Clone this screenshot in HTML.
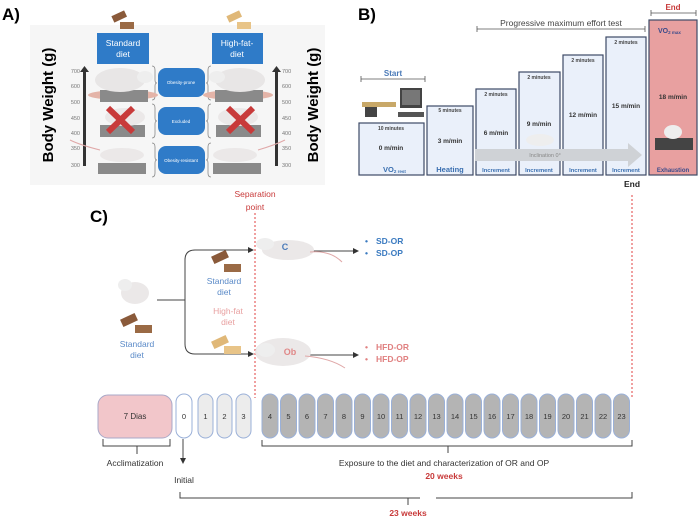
<!DOCTYPE html>
<html><head><meta charset="utf-8"><style>
html,body{margin:0;padding:0;background:#fff;}
svg{display:block;font-family:"Liberation Sans",sans-serif;}
</style></head><body>
<svg width="700" height="520" viewBox="0 0 700 520" xmlns="http://www.w3.org/2000/svg">
<defs>
<marker id="ar" markerWidth="6" markerHeight="6" refX="5" refY="3" orient="auto"><path d="M0,0 L6,3 L0,6z" fill="#333"/></marker>
</defs>
<!-- Panel A -->
<text x="2" y="20" font-size="17" font-weight="bold">A)</text>
<rect x="30" y="25" width="295" height="160" fill="#f6f6f6"/>
<rect x="112" y="13" width="14" height="7" fill="#8a5a3a" transform="rotate(-25 119 16)"/>
<rect x="120" y="22" width="14" height="7" fill="#9a6a45"/>
<rect x="227" y="13" width="14" height="7" fill="#e0b878" transform="rotate(-25 234 16)"/>
<rect x="237" y="22" width="14" height="7" fill="#e8c488"/>
<rect x="97" y="33" width="52" height="31" fill="#2f7bc8"/>
<text x="123" y="46" font-size="8.5" fill="#fff" text-anchor="middle">Standard</text>
<text x="123" y="57" font-size="8.5" fill="#fff" text-anchor="middle">diet</text>
<rect x="212" y="33" width="51" height="31" fill="#2f7bc8"/>
<text x="237" y="46" font-size="8.5" fill="#fff" text-anchor="middle">High-fat-</text>
<text x="237" y="57" font-size="8.5" fill="#fff" text-anchor="middle">diet</text>
<g fill="#2f7bc8">
<rect x="158" y="68" width="47" height="29" rx="8"/>
<rect x="158" y="107" width="47" height="28" rx="8"/>
<rect x="158" y="146" width="47" height="28" rx="8"/>
</g>
<g font-size="4.5" fill="#fff" text-anchor="middle">
<text x="181" y="84">Obesity-prone</text><text x="181" y="123">Excluded</text><text x="181" y="162">Obesity-resistant</text>
</g>
<g stroke="#888" fill="none" stroke-width="0.8">
<path d="M152,66 q3,0 3,4 v10 q0,3 2,3 q-2,0 -2,3 v10 q0,4 -3,4"/>
<path d="M152,104 q3,0 3,4 v10 q0,3 2,3 q-2,0 -2,3 v10 q0,4 -3,4"/>
<path d="M152,143 q3,0 3,4 v10 q0,3 2,3 q-2,0 -2,3 v10 q0,4 -3,4"/>
<path d="M211,66 q-3,0 -3,4 v10 q0,3 -2,3 q2,0 2,3 v10 q0,4 3,4"/>
<path d="M211,104 q-3,0 -3,4 v10 q0,3 -2,3 q2,0 2,3 v10 q0,4 3,4"/>
<path d="M211,143 q-3,0 -3,4 v10 q0,3 -2,3 q2,0 2,3 v10 q0,4 3,4"/>
</g>
<!-- axes -->
<rect x="83" y="70" width="3" height="96" fill="#333"/><path d="M80,72 L84.5,66 L89,72z" fill="#333"/>
<rect x="275" y="70" width="3" height="96" fill="#333"/><path d="M272,72 L276.5,66 L281,72z" fill="#333"/>
<g font-size="5.5" fill="#777" text-anchor="end">
<text x="80" y="73">700</text><text x="80" y="88">600</text><text x="80" y="104">500</text><text x="80" y="120">450</text><text x="80" y="135">400</text><text x="80" y="150">350</text><text x="80" y="167">300</text>
</g>
<g font-size="5.5" fill="#777">
<text x="282" y="73">700</text><text x="282" y="88">600</text><text x="282" y="104">500</text><text x="282" y="120">450</text><text x="282" y="135">400</text><text x="282" y="150">350</text><text x="282" y="167">300</text>
</g>
<text transform="translate(53,105) rotate(-90)" font-size="15" font-weight="bold" text-anchor="middle">Body Weight (g)</text>
<text transform="translate(318,105) rotate(-90)" font-size="15" font-weight="bold" text-anchor="middle">Body Weight (g)</text>
<!-- rats & scales A -->
<g>
<ellipse cx="123" cy="95" rx="35" ry="5" fill="#e4b4a8"/>
<rect x="100" y="90" width="48" height="12" fill="#8a8a8a"/>
<ellipse cx="120" cy="80" rx="25" ry="12" fill="#e8e6e6"/><ellipse cx="145" cy="77" rx="8" ry="6" fill="#eee"/>
<ellipse cx="238" cy="95" rx="35" ry="5" fill="#e4b4a8"/>
<rect x="215" y="90" width="48" height="12" fill="#8a8a8a"/>
<ellipse cx="240" cy="80" rx="25" ry="12" fill="#e8e6e6"/><ellipse cx="217" cy="77" rx="8" ry="6" fill="#eee"/>
<rect x="100" y="125" width="45" height="12" fill="#8a8a8a"/>
<ellipse cx="125" cy="117" rx="20" ry="9" fill="#ebe8e8"/>
<rect x="216" y="125" width="45" height="12" fill="#8a8a8a"/>
<ellipse cx="238" cy="117" rx="20" ry="9" fill="#ebe8e8"/>
<path d="M108,108 L133,132 M133,108 L108,132" stroke="#c83a3a" stroke-width="6"/>
<path d="M228,108 L253,132 M253,108 L228,132" stroke="#c83a3a" stroke-width="6"/>
<rect x="98" y="163" width="48" height="11" fill="#8a8a8a"/>
<ellipse cx="122" cy="155" rx="22" ry="7" fill="#ebe8e8"/>
<rect x="213" y="163" width="48" height="11" fill="#8a8a8a"/>
<ellipse cx="235" cy="155" rx="22" ry="7" fill="#ebe8e8"/>
<path d="M100,150 Q80,145 70,140 M258,150 Q275,145 285,140" stroke="#e0a8a8" fill="none"/>
</g>
<!-- Panel B -->
<text x="358" y="20" font-size="17" font-weight="bold">B)</text>
<text x="561" y="26" font-size="8.5" fill="#444" text-anchor="middle">Progressive maximum effort test</text>
<path d="M477,29 H645 M477,26 V32 M645,26 V32" stroke="#555" stroke-width="0.8"/>
<text x="673" y="10" font-size="8" font-weight="bold" fill="#c83a3a" text-anchor="middle">End</text>
<path d="M651,13 H696 M651,10 V16 M696,10 V16" stroke="#555" stroke-width="0.8"/>
<text x="393" y="76" font-size="8" font-weight="bold" fill="#4a7ab8" text-anchor="middle">Start</text>
<path d="M361,79 H425 M361,76 V82 M425,76 V82" stroke="#555" stroke-width="0.8"/>
<g fill="#eaf0fa" stroke="#3e4a66" stroke-width="1.2">
<rect x="359" y="123" width="65" height="52"/>
<rect x="427" y="106" width="46" height="69"/>
<rect x="476" y="89" width="40" height="86"/>
<rect x="519" y="72" width="41" height="103"/>
<rect x="563" y="55" width="40" height="120"/>
<rect x="606" y="37" width="40" height="138"/>
</g>
<rect x="649" y="20" width="48" height="155" fill="#e8a0a0" stroke="#3e4a66" stroke-width="1.2"/>
<!-- computer -->
<rect x="400" y="88" width="22" height="20" fill="#444"/><rect x="402" y="90" width="18" height="15" fill="#777"/>
<rect x="398" y="112" width="26" height="5" fill="#555"/>
<rect x="362" y="102" width="34" height="5" fill="#c8a868"/><rect x="365" y="107" width="12" height="10" fill="#444"/>
<path d="M475,155 H630" stroke="#cfd2d6" stroke-width="12"/><path d="M628,143 L642,155 L628,167z" fill="#cfd2d6"/>
<text x="545" y="157" font-size="5.5" fill="#888" text-anchor="middle">Inclination 0°</text>
<ellipse cx="540" cy="140" rx="14" ry="6" fill="#eee"/>
<rect x="655" y="138" width="38" height="12" fill="#444"/><ellipse cx="673" cy="132" rx="9" ry="7" fill="#eee"/>
<g font-size="5" font-weight="bold" fill="#444" text-anchor="middle">
<text x="391" y="130">10 minutes</text><text x="450" y="112">5 minutes</text>
<text x="496" y="96">2 minutes</text><text x="539" y="79">2 minutes</text>
<text x="583" y="62">2 minutes</text><text x="626" y="44">2 minutes</text>
</g>
<g font-size="6.5" font-weight="bold" fill="#333" text-anchor="middle">
<text x="391" y="150">0 m/min</text><text x="450" y="143">3 m/min</text>
<text x="496" y="135">6 m/min</text><text x="539" y="126">9 m/min</text>
<text x="583" y="117">12 m/min</text><text x="626" y="108">15 m/min</text>
<text x="673" y="99">18 m/min</text>
</g>
<text x="383" y="172" font-size="7.5" font-weight="bold" fill="#3a6fb0">VO<tspan font-size="4.5" dy="1">2 rest</tspan></text>
<text x="658" y="33" font-size="7" font-weight="bold" fill="#3a4a8a">VO<tspan font-size="4.5" dy="1">2 max</tspan></text>
<text x="450" y="172" font-size="7.5" font-weight="bold" fill="#3a6fb0" text-anchor="middle">Heating</text>
<g font-size="5.8" font-weight="bold" fill="#3a6fb0" text-anchor="middle">
<text x="496" y="172">Increment</text><text x="539" y="172">Increment</text><text x="583" y="172">Increment</text><text x="626" y="172">Increment</text>
</g>
<text x="673" y="172" font-size="6" font-weight="bold" fill="#3a4a8a" text-anchor="middle">Exhaustion</text>
<!-- Panel C -->
<text x="255" y="197" font-size="8.5" fill="#c83a3a" text-anchor="middle">Separation</text>
<text x="255" y="210" font-size="8.5" fill="#c83a3a" text-anchor="middle">point</text>
<text x="90" y="222" font-size="17" font-weight="bold">C)</text>
<text x="632" y="187" font-size="8.5" font-weight="bold" fill="#222" text-anchor="middle">End</text>
<path d="M255,213 V398" stroke="#e04040" stroke-dasharray="2,2" stroke-width="1"/>
<path d="M632,195 V398" stroke="#e04040" stroke-dasharray="2,2" stroke-width="1"/>
<path d="M157,300 H185 M195,250 Q185,250 185,260 V344 Q185,354 195,354" stroke="#444" fill="none" stroke-width="1"/>
<path d="M195,250 H253" stroke="#444" stroke-width="1" marker-end="url(#ar)"/>
<path d="M195,354 H253" stroke="#444" stroke-width="1" marker-end="url(#ar)"/>
<path d="M305,251 H358" stroke="#444" stroke-width="1" marker-end="url(#ar)"/>
<path d="M305,355 H358" stroke="#444" stroke-width="1" marker-end="url(#ar)"/>
<!-- mice -->
<ellipse cx="288" cy="250" rx="26" ry="10" fill="#ebe8e8"/><ellipse cx="265" cy="244" rx="9" ry="6" fill="#eee"/>
<path d="M310,252 Q330,250 342,262" stroke="#e0a8a8" fill="none"/>
<text x="285" y="250" font-size="9" font-weight="bold" fill="#4a7ab8" text-anchor="middle">C</text>
<ellipse cx="283" cy="352" rx="28" ry="14" fill="#ebe8e8"/><ellipse cx="266" cy="350" rx="9" ry="7" fill="#eee"/>
<path d="M305,356 Q330,358 345,368" stroke="#e0a8a8" fill="none"/>
<text x="290" y="355" font-size="9" font-weight="bold" fill="#e08888" text-anchor="middle">Ob</text>
<ellipse cx="135" cy="293" rx="14" ry="11" fill="#ebe8e8"/><ellipse cx="125" cy="285" rx="7" ry="6" fill="#eee"/>
<rect x="121" y="316" width="16" height="8" fill="#8a5a3a" transform="rotate(-25 129 320)"/>
<rect x="135" y="325" width="17" height="8" fill="#9a6a45"/>
<rect x="212" y="253" width="16" height="8" fill="#8a5a3a" transform="rotate(-25 220 257)"/>
<rect x="224" y="264" width="17" height="8" fill="#9a6a45"/>
<rect x="212" y="338" width="16" height="8" fill="#e0b878" transform="rotate(-25 220 342)"/>
<rect x="224" y="346" width="17" height="8" fill="#e8c488"/>
<g font-size="8.5" text-anchor="middle">
<text x="137" y="347" fill="#5a8ac8">Standard</text><text x="137" y="358" fill="#5a8ac8">diet</text>
<text x="224" y="284" fill="#5a8ac8">Standard</text><text x="224" y="295" fill="#5a8ac8">diet</text>
<text x="228" y="314" fill="#e8a0a0">High-fat</text><text x="228" y="325" fill="#e8a0a0">diet</text>
</g>
<g font-size="8.5" font-weight="bold" fill="#3a7ac0">
<text x="365" y="244">•</text><text x="376" y="244">SD-OR</text>
<text x="365" y="256">•</text><text x="376" y="256">SD-OP</text>
</g>
<g font-size="8.5" font-weight="bold" fill="#e08080">
<text x="365" y="350">•</text><text x="376" y="350">HFD-OR</text>
<text x="365" y="362">•</text><text x="376" y="362">HFD-OP</text>
</g>
<!-- timeline -->
<rect x="98" y="395" width="74" height="43" rx="10" fill="#f2c6ca" stroke="#a8a8c8"/>
<text x="135" y="419" font-size="8" fill="#333" text-anchor="middle">7 Dias</text>
<rect x="176" y="394" width="16" height="44" rx="8" fill="#fff" stroke="#9ab0d8"/>
<text x="184" y="419" font-size="7.5" fill="#333" text-anchor="middle">0</text>
<g fill="#ececec" stroke="#9ab0d8">
<rect x="198" y="394" width="15" height="44" rx="7.5"/><rect x="217" y="394" width="15" height="44" rx="7.5"/><rect x="236" y="394" width="15" height="44" rx="7.5"/>
</g>
<g font-size="7.5" fill="#333" text-anchor="middle"><text x="205.5" y="419">1</text><text x="224.5" y="419">2</text><text x="243.5" y="419">3</text></g>
<g fill="#b4b4b4" stroke="#9ab0d8">
<rect x="262" y="394" width="16" height="44" rx="8"/><rect x="280.5" y="394" width="16" height="44" rx="8"/><rect x="299" y="394" width="16" height="44" rx="8"/><rect x="317.5" y="394" width="16" height="44" rx="8"/><rect x="336" y="394" width="16" height="44" rx="8"/><rect x="354.5" y="394" width="16" height="44" rx="8"/><rect x="373" y="394" width="16" height="44" rx="8"/><rect x="391.5" y="394" width="16" height="44" rx="8"/><rect x="410" y="394" width="16" height="44" rx="8"/><rect x="428.5" y="394" width="16" height="44" rx="8"/><rect x="447" y="394" width="16" height="44" rx="8"/><rect x="465.5" y="394" width="16" height="44" rx="8"/><rect x="484" y="394" width="16" height="44" rx="8"/><rect x="502.5" y="394" width="16" height="44" rx="8"/><rect x="521" y="394" width="16" height="44" rx="8"/><rect x="539.5" y="394" width="16" height="44" rx="8"/><rect x="558" y="394" width="16" height="44" rx="8"/><rect x="576.5" y="394" width="16" height="44" rx="8"/><rect x="595" y="394" width="16" height="44" rx="8"/><rect x="613.5" y="394" width="16" height="44" rx="8"/>
</g>
<g font-size="7.5" fill="#333" text-anchor="middle">
<text x="270" y="419">4</text><text x="288.5" y="419">5</text><text x="307" y="419">6</text><text x="325.5" y="419">7</text><text x="344" y="419">8</text><text x="362.5" y="419">9</text><text x="381" y="419">10</text><text x="399.5" y="419">11</text><text x="418" y="419">12</text><text x="436.5" y="419">13</text><text x="455" y="419">14</text><text x="473.5" y="419">15</text><text x="492" y="419">16</text><text x="510.5" y="419">17</text><text x="529" y="419">18</text><text x="547.5" y="419">19</text><text x="566" y="419">20</text><text x="584.5" y="419">21</text><text x="603" y="419">22</text><text x="621.5" y="419">23</text>
</g>
<g stroke="#444" fill="none" stroke-width="1">
<path d="M103,439 V446 H170 V439 M137,446 V454"/>
<path d="M262,440 V446 H632 V440 M448,446 V453"/>
<path d="M180,492 V498 H420 M436,498 H632 V492 M408,498 V505"/>
<path d="M183,439 V463" marker-end="url(#ar)"/>
</g>
<g font-size="8.5" fill="#333" text-anchor="middle">
<text x="135" y="466">Acclimatization</text>
<text x="184" y="483">Initial</text>
<text x="444" y="466">Exposure to the diet and characterization of OR and OP</text>
</g>
<text x="444" y="479" font-size="8.5" font-weight="bold" fill="#c83a3a" text-anchor="middle">20  weeks</text>
<text x="408" y="516" font-size="8.5" font-weight="bold" fill="#c83a3a" text-anchor="middle">23 weeks</text>
</svg>
</body></html>
